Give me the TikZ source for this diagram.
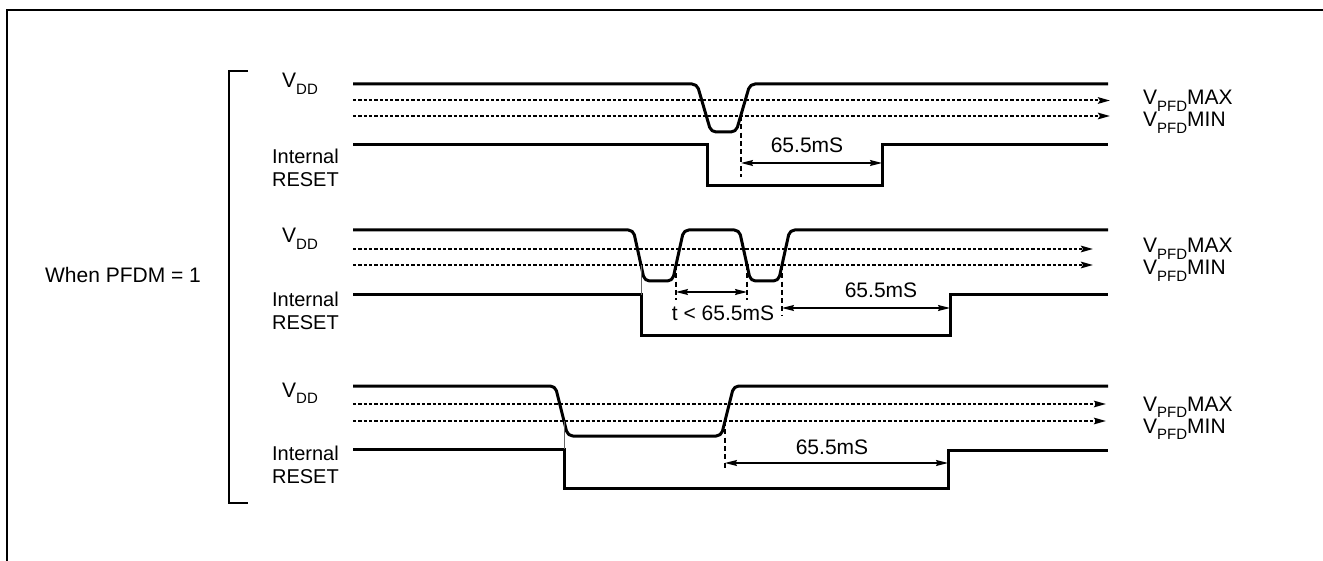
\documentclass[tikz,border=0pt]{standalone}
\usepackage{fontspec}
\setmainfont{Liberation Sans}
\usetikzlibrary{arrows.meta}
\newcommand{\lowsub}[1]{\raisebox{-0.3em}{\fontsize{15}{15}\selectfont #1}}
\begin{document}
\begin{tikzpicture}[x=1pt,y=-1pt,
  frame/.style={line width=2.8pt},
  sig/.style={line width=3pt, rounded corners=5pt, line join=round},
  rst/.style={line width=3pt},
  lvl/.style={line width=2pt, dash pattern=on 3.3pt off 2pt, -{Stealth[length=12pt,width=6.5pt,inset=2pt]}},
  guide/.style={line width=1.1pt, dash pattern=on 5pt off 3.3pt},
  thin/.style={line width=0.9pt, black!60},
  dim/.style={line width=1.3pt, {Stealth[length=12pt,width=6pt,inset=1.5pt]}-{Stealth[length=12pt,width=6pt,inset=1.5pt]}},
  lbl/.style={font=\fontsize{21}{25}\selectfont, inner sep=0pt},
  side/.style={font=\fontsize{20}{24}\selectfont, inner sep=0pt, anchor=base east},
]
\useasboundingbox (0,0) rectangle (1323,561);
% frame and bracket
\draw[frame] (7,561) -- (7,10) -- (1323,10);
\draw[line width=2.5pt] (248,71) -- (229,71) -- (229,503) -- (248,503);
\node[lbl, anchor=base] (when) at (123,283) {When PFDM = 1};

% ---------- section 1 ----------
\node[lbl, anchor=base] (vdd1) at (300,88) {V\lowsub{DD}};
\node[side] (int1) at (339,164) {Internal};
\node[side] (res1) at (339,187) {RESET};
\draw[sig] (353,84) -- (697,84) -- (711,132) -- (736,132) -- (750,84) -- (1108,84);
\draw[lvl] (353,100.5) -- (1110,100.5);
\draw[lvl] (353,116) -- (1110,116);
\draw[rst] (353,145) -- (707,145) -- (707,186) -- (882,186) -- (882,145) -- (1108,145);
\coordinate (g1a) at (741,116); \coordinate (g1b) at (741,177);
\draw[guide] (g1a) -- (g1b);
\coordinate (d1a) at (741,163); \coordinate (d1b) at (882,163);
\draw[dim] (d1a) -- (d1b);
\node[lbl, anchor=base] (t1) at (807,153) {65.5mS};
\node[lbl, anchor=base west] (max1) at (1143,105) {V\lowsub{PFD}MAX};
\node[lbl, anchor=base west] (min1) at (1143,127) {V\lowsub{PFD}MIN};

% ---------- section 2 ----------
\node[lbl, anchor=base] (vdd2) at (300,243) {V\lowsub{DD}};
\node[side] (int2) at (339,307) {Internal};
\node[side] (res2) at (339,330) {RESET};
\draw[sig] (353,230) -- (633.3,230) -- (644.5,281) -- (672.5,281) -- (683.7,230) -- (739.3,230) -- (750.5,281) -- (778.5,281) -- (789.7,230) -- (1108,230);
\draw[lvl] (353,249) -- (1093,249);
\draw[lvl] (353,265) -- (1093,265);
\draw[rst] (353,295) -- (641,295) -- (641,336) -- (950,336) -- (950,295) -- (1108,295);
\coordinate (k2a) at (641,265); \coordinate (k2b) at (641,295);
\draw[thin] (k2a) -- (k2b);
\coordinate (g2a) at (676,265); \coordinate (g2b) at (676,300);
\coordinate (g2c) at (747,265); \coordinate (g2d) at (747,300);
\coordinate (g2e) at (782,265); \coordinate (g2f) at (782,315);
\draw[guide] (g2a) -- (g2b);
\draw[guide] (g2c) -- (g2d);
\draw[guide] (g2e) -- (g2f);
\coordinate (d2a) at (676,292); \coordinate (d2b) at (747,292);
\draw[dim] (d2a) -- (d2b);
\coordinate (d2c) at (782,308); \coordinate (d2d) at (950,308);
\draw[dim] (d2c) -- (d2d);
\node[lbl, anchor=base] (t2a) at (723,321) {t < 65.5mS};
\node[lbl, anchor=base] (t2b) at (881,298) {65.5mS};
\node[lbl, anchor=base west] (max2) at (1143,253) {V\lowsub{PFD}MAX};
\node[lbl, anchor=base west] (min2) at (1143,275) {V\lowsub{PFD}MIN};

% ---------- section 3 ----------
\node[lbl, anchor=base] (vdd3) at (300,397) {V\lowsub{DD}};
\node[side] (int3) at (339,460) {Internal};
\node[side] (res3) at (339,483) {RESET};
\draw[sig] (353,386) -- (555.25,386) -- (567.75,436) -- (721.25,436) -- (733.75,386) -- (1108,386);
\draw[lvl] (353,404) -- (1106,404);
\draw[lvl] (353,421) -- (1106,421);
\draw[rst] (353,449) -- (564,449) -- (564,488) -- (948,488) -- (948,450) -- (1108,450);
\coordinate (k3a) at (564,421); \coordinate (k3b) at (564,449);
\draw[thin] (k3a) -- (k3b);
\coordinate (g3a) at (725,421); \coordinate (g3b) at (725,470);
\draw[guide] (g3a) -- (g3b);
\coordinate (d3a) at (725,463); \coordinate (d3b) at (948,463);
\draw[dim] (d3a) -- (d3b);
\node[lbl, anchor=base] (t3) at (832,454) {65.5mS};
\node[lbl, anchor=base west] (max3) at (1143,411) {V\lowsub{PFD}MAX};
\node[lbl, anchor=base west] (min3) at (1143,433) {V\lowsub{PFD}MIN};
\end{tikzpicture}
\end{document}
